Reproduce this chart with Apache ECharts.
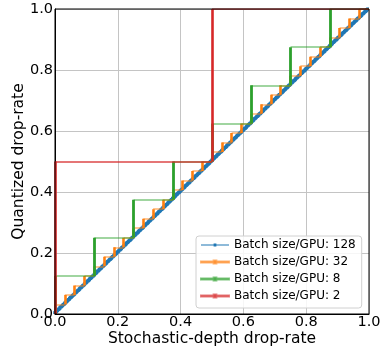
<!DOCTYPE html>
<html>
<head>
<meta charset="utf-8">
<script src="https://cdn.jsdelivr.net/npm/echarts@6/dist/echarts.min.js"></script>
<style>html,body{margin:0;padding:0;background:#fff}#c{width:384px;height:350px}</style>
</head>
<body>
<div id="c"></div>
<script>
// Quantized drop-rate levels for each batch size / GPU
const batchNames = ['Batch size/GPU: 128', 'Batch size/GPU: 32', 'Batch size/GPU: 8', 'Batch size/GPU: 2'];
const colors = ['#1f77b4', '#ff7f0e', '#2ca02c', '#d62728'];
const levels128 = [
  .0078,.0156,.0234,.0313,.0391,.0469,.0547,.0625,
  .0703,.0781,.0859,.0938,.1016,.1094,.1172,.125,
  .1328,.1406,.1484,.1563,.1641,.1719,.1797,.1875,
  .1953,.2031,.2109,.2188,.2266,.2344,.2422,.25,
  .2578,.2656,.2734,.2813,.2891,.2969,.3047,.3125,
  .3203,.3281,.3359,.3438,.3516,.3594,.3672,.375,
  .3828,.3906,.3984,.4063,.4141,.4219,.4297,.4375,
  .4453,.4531,.4609,.4688,.4766,.4844,.4922,.5,
  .5078,.5156,.5234,.5313,.5391,.5469,.5547,.5625,
  .5703,.5781,.5859,.5938,.6016,.6094,.6172,.625,
  .6328,.6406,.6484,.6563,.6641,.6719,.6797,.6875,
  .6953,.7031,.7109,.7188,.7266,.7344,.7422,.75,
  .7578,.7656,.7734,.7813,.7891,.7969,.8047,.8125,
  .8203,.8281,.8359,.8438,.8516,.8594,.8672,.875,
  .8828,.8906,.8984,.9063,.9141,.9219,.9297,.9375,
  .9453,.9531,.9609,.9688,.9766,.9844,.9922,1
];
const levels32 = [
  .03125,.0625,.09375,.125,.15625,.1875,.21875,.25,
  .28125,.3125,.34375,.375,.40625,.4375,.46875,.5,
  .53125,.5625,.59375,.625,.65625,.6875,.71875,.75,
  .78125,.8125,.84375,.875,.90625,.9375,.96875,1
];
const levels8 = [.125,.25,.375,.5,.625,.75,.875,1];
const levels2 = [.5,1];
const xTicks = [0, 0.2, 0.4, 0.6, 0.8, 1.0];

const allLevels = [levels128, levels32, levels8, levels2];

// staircase: vertical rise at x=prev, then flat at level q from prev to q
function stair(levels) {
  const h = [], v = [], path = [[0, 0]];
  let prev = 0;
  levels.forEach(q => {
    v.push({coords: [[prev, prev], [prev, q]]});
    h.push({coords: [[prev, q], [q, q]]});
    path.push([prev, q], [q, q]);
    prev = q;
  });
  return {h, v, path};
}

const vWidth = [4, 2.6, 2.8, 2.6];
const hWidth = [3.5, 1.6, 1.6, 1.6];
const hOpacity = [0.85, 0.6, 0.6, 0.85];

const series = [];
allLevels.forEach((lv, i) => {
  const s = stair(lv);
  if (i === 0) {
    series.push({
      name: batchNames[i], type: 'line', data: s.path, showSymbol: false, symbol: 'none',
      silent: true, z: 2, lineStyle: {color: colors[i], width: 3.5, opacity: 1},
      itemStyle: {color: colors[i]}
    });
    return;
  }
  series.push({
    name: batchNames[i], type: 'lines', coordinateSystem: 'cartesian2d', polyline: false,
    data: s.h, silent: true, clip: true, z: 2 + i * 2,
    lineStyle: {color: colors[i], width: hWidth[i], opacity: hOpacity[i]}
  });
  series.push({
    name: batchNames[i], type: 'lines', coordinateSystem: 'cartesian2d', polyline: false,
    data: s.v, silent: true, clip: true, z: 3 + i * 2,
    lineStyle: {color: colors[i], width: vWidth[i], opacity: 1}
  });
});

const font = 'DejaVu Sans';
const chart = echarts.init(document.getElementById('c'), null, {renderer: 'canvas'});
chart.setOption({
  animation: false,
  backgroundColor: '#fff',
  grid: {left: 55, right: 15, top: 9, bottom: 36, containLabel: false, outerBoundsMode: 'none',
    show: true, borderColor: '#000', borderWidth: 1, backgroundColor: 'transparent', z: 20},
  xAxis: {
    type: 'value', min: 0, max: 1, interval: 0.2,
    name: 'Stochastic-depth drop-rate', nameLocation: 'middle', nameGap: 17, nameMoveOverlap: false,
    nameTextStyle: {fontFamily: font, fontSize: 15.5, color: '#000'},
    axisLine: {show: true, lineStyle: {color: '#000', width: 1}},
    axisTick: {show: false},
    splitLine: {show: true, lineStyle: {color: '#c4c4c4', width: 1}},
    axisLabel: {fontFamily: font, fontSize: 14.5, color: '#000', margin: 1,
      formatter: v => v.toFixed(1)}
  },
  yAxis: {
    type: 'value', min: 0, max: 1, interval: 0.2,
    name: 'Quantized drop-rate', nameLocation: 'middle', nameGap: 28, nameMoveOverlap: false,
    nameTextStyle: {fontFamily: font, fontSize: 15.5, color: '#000'},
    axisLine: {show: true, lineStyle: {color: '#000', width: 1}},
    axisTick: {show: false},
    splitLine: {show: true, lineStyle: {color: '#c4c4c4', width: 1}},
    axisLabel: {fontFamily: font, fontSize: 14.5, color: '#000', margin: 2,
      formatter: v => v.toFixed(1)}
  },
  legend: {
    orient: 'vertical', left: 196, top: 236,
    padding: [2, 6, 5, 4], itemGap: 3,
    itemWidth: 28, itemHeight: 8,
    backgroundColor: 'rgba(255,255,255,0.85)', borderColor: '#d0d0d0', borderWidth: 1, borderRadius: 3,
    icon: 'path://M0,3.4 L28,3.4 L28,4.6 L0,4.6 Z M12.6,2.6 L15.4,2.6 L15.4,5.4 L12.6,5.4 Z',
    textStyle: {fontFamily: font, fontSize: 12, color: '#000', lineHeight: 14},
    data: batchNames.map((n, i) => ({name: n, itemStyle: {color: colors[i], opacity: i === 0 ? 1 : 0.6}})),
    z: 30
  },
  series: series
});
</script>
</body>
</html>
